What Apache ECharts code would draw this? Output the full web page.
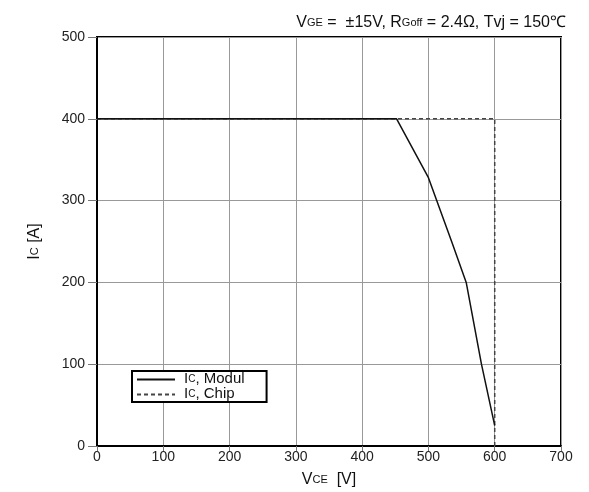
<!DOCTYPE html>
<html>
<head>
<meta charset="utf-8">
<script src="https://cdn.jsdelivr.net/npm/echarts@6/dist/echarts.min.js"></script>
<style>
  html, body { margin: 0; padding: 0; background: #fff; }
  #chart { width: 589px; height: 492px; }
</style>
</head>
<body>
<div id="chart"></div>
<script>
// Ic-Vce curve points [V, A]
var modulData = [[0, 400], [452, 400], [500, 328], [535, 250], [557, 200], [580, 100], [600, 25]];
var chipData = [[0, 400], [600, 400], [600, 0]];
var xTicks = [0, 700, 100];
var yTicks = [0, 500, 100];

var chartDom = document.getElementById('chart');
var myChart = echarts.init(chartDom);
var font = 'Liberation Sans, Arial, sans-serif';
var subRich = {
    a: { fontSize: 16, fontWeight: 'normal', color: '#111', fontFamily: font, verticalAlign: 'bottom', lineHeight: 20 },
    s: { fontSize: 11, fontWeight: 'normal', color: '#111', fontFamily: font, verticalAlign: 'bottom', lineHeight: 16, padding: [0, 0, 3, 0] }
};
var option = {
    animation: false,
    title: {
        text: '{a|V}{s|GE}{a| =  ±15V, R}{s|Goff}{a| = 2.4Ω, Tvj = 150℃}',
        right: 18,
        top: 6,
        textStyle: { fontWeight: 'normal', rich: subRich }
    },
    grid: {
        left: 97, right: 28, top: 37, bottom: 46,
        outerBoundsMode: 'none',
        show: true, borderColor: '#000', borderWidth: 2
    },
    legend: {
        left: 132, top: 371,
        orient: 'vertical',
        itemGap: 0,
        itemWidth: 38,
        itemHeight: 10,
        padding: [0, 22, 1, 4],
        borderColor: '#000', borderWidth: 2,
        backgroundColor: '#fff',
        itemStyle: { color: 'transparent', borderWidth: 0 },
        data: ['Modul', 'Chip'],
        formatter: function (name) { return '{f|I}{s|C}{a|, ' + name + '}'; },
        textStyle: {
            rich: {
                f: { fontSize: 15, color: '#111', fontFamily: font, verticalAlign: 'bottom', lineHeight: 13, padding: [0, 0, 0, 4] },
                a: { fontSize: 15, color: '#111', fontFamily: font, verticalAlign: 'bottom', lineHeight: 13 },
                s: { fontSize: 10, color: '#111', fontFamily: font, verticalAlign: 'bottom', lineHeight: 10, padding: [0, 0, 2, 0] }
            }
        }
    },
    xAxis: {
        type: 'value',
        min: xTicks[0], max: xTicks[1], interval: xTicks[2],
        name: '{a|V}{s|CE}{a|  [V]}',
        nameLocation: 'middle', nameGap: 22,
        nameTextStyle: { rich: subRich },
        axisLine: { show: true, onZero: false, lineStyle: { color: '#000', width: 2 } },
        axisTick: { show: true, length: 5, lineStyle: { color: '#777' } },
        axisLabel: { color: '#222', fontSize: 14, fontFamily: font, margin: 4 },
        splitLine: { lineStyle: { color: '#999', width: 1 } }
    },
    yAxis: {
        type: 'value',
        min: yTicks[0], max: yTicks[1], interval: yTicks[2],
        name: '{a|I}{s|C}{a| [A]}',
        nameLocation: 'middle', nameGap: 54, nameRotate: 90,
        nameTextStyle: { rich: subRich },
        axisLine: { show: true, lineStyle: { color: '#000', width: 2 } },
        axisTick: { show: true, length: 9, lineStyle: { color: '#777' } },
        axisLabel: { color: '#222', fontSize: 14, fontFamily: font, margin: 12 },
        splitLine: { lineStyle: { color: '#999', width: 1 } }
    },
    series: [
        {
            name: 'Chip',
            type: 'line',
            data: chipData,
            showSymbol: false,
            symbol: 'none',
            lineStyle: { color: '#444', width: 1.5, type: [4, 3] },
            itemStyle: { color: '#444' },
            z: 2
        },
        {
            name: 'Modul',
            type: 'line',
            data: modulData,
            showSymbol: false,
            symbol: 'none',
            lineStyle: { color: '#111', width: 1.5 },
            itemStyle: { color: '#111' },
            z: 3
        }
    ]
};
option && myChart.setOption(option);
</script>
</body>
</html>
